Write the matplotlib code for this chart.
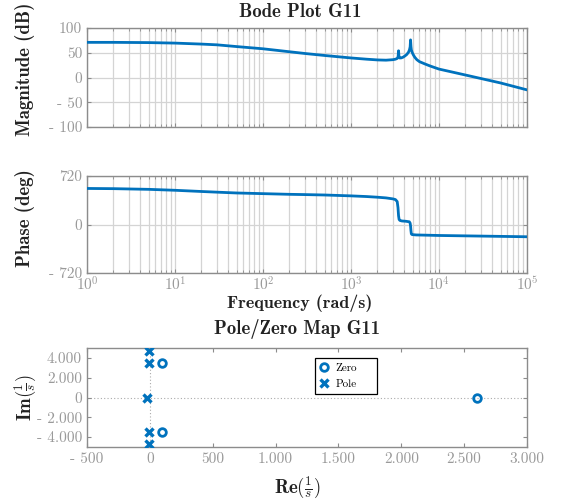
import matplotlib
matplotlib.use("Agg")
import matplotlib.pyplot as plt
import numpy as np

# ---------------- data ----------------
freq = [1, 2, 5, 10, 20, 30, 50, 100, 200, 300, 500, 1000, 1500, 2000, 2500,
        3000, 3200, 3350, 3430, 3470, 3510, 3560, 3700, 3900, 4100, 4300, 4500,
        4620, 4700, 4750, 4800, 4850, 4950, 5100, 5300, 5600, 6000, 7000, 8000,
        10000, 20000, 50000, 100000]
mag_db = [71, 71, 70.5, 69.5, 67.5, 66, 62.5, 58, 52, 48.5, 44.5, 39.5, 37, 35.5, 35,
          36, 37, 38.5, 42, 54, 42, 39.5, 39.5, 41, 43.5, 46.5, 51,
          56, 62, 76, 63, 56, 51, 46, 41, 36, 32, 27, 23,
          17, 5, -11, -25]

phase_freq = [1, 2, 5, 10, 20, 30, 50, 100, 200, 300, 500, 1000, 1500, 2000, 2500,
              3000, 3200, 3350, 3420, 3470, 3520, 3600, 3800, 4200, 4600, 4700,
              4750, 4800, 4850, 4950, 5500, 10000, 100000]
phase_deg = [535, 532, 522, 508, 490, 480, 468, 458, 448, 444, 438, 425, 415, 405, 395,
             380, 370, 340, 250, 130, 75, 60, 52, 48, 40, 20,
             -20, -90, -140, -150, -155, -163, -182]

zero_re = [100, 100, 2600]
zero_im = [3500, -3500, 0]
pole_re = [-10, -10, -10, -10, -20]
pole_im = [4700, 3500, -3500, -4700, 0]

mag_ticks = [100, 50, 0, -50, -100]
mag_labels = ["100", "50", "0", "- 50", "- 100"]
phase_ticks = [720, 0, -720]
phase_labels = ["720", "0", "- 720"]
freq_ticks = [1, 10, 100, 1000, 10000, 100000]
freq_labels = [r"$10^{0}$", r"$10^{1}$", r"$10^{2}$", r"$10^{3}$", r"$10^{4}$", r"$10^{5}$"]
re_ticks = [-500, 0, 500, 1000, 1500, 2000, 2500, 3000]
re_labels = ["- 500", "0", "500", "1.000", "1.500", "2.000", "2.500", "3.000"]
im_ticks = [4000, 2000, 0, -2000, -4000]
im_labels = ["4.000", "2.000", "0", "- 2.000", "- 4.000"]

# ---------------- style ----------------
plt.rcParams["mathtext.fontset"] = "cm"
plt.rcParams["axes.unicode_minus"] = False
BLUE = "#0072BD"
TICKC = "#9a9a9a"
SPINEC = "#8c8c8c"
GRIDC = "#d4d4d4"
TXTC = "#222222"
REG = "cmr10"
BOLD = "cmb10"
TICKFS = 11
LABFS = 13.5

fig = plt.figure(figsize=(5.61, 5.0), dpi=100)
W, H = 561.0, 500.0


def ax_rect(l, t, r, b):
    return [l / W, 1 - b / H, (r - l) / W, (b - t) / H]


def style_axes(ax):
    for s in ax.spines.values():
        s.set_color(SPINEC)
        s.set_linewidth(1.0)
    ax.tick_params(which="both", direction="in", top=True, right=True,
                   colors=SPINEC, labelcolor=TICKC, labelsize=TICKFS)
    for lab in ax.get_xticklabels() + ax.get_yticklabels():
        lab.set_family(REG)


# ---- magnitude ----
ax1 = fig.add_axes(ax_rect(87, 28, 527, 127))
ax1.semilogx(freq, mag_db, color=BLUE, lw=2.0, zorder=3)
ax1.set_xlim(1, 1e5)
ax1.set_ylim(-100, 100)
ax1.set_yticks(mag_ticks)
ax1.set_yticklabels(mag_labels)
ax1.set_xticks(freq_ticks)
ax1.set_xticklabels([])
ax1.grid(True, which="major", color=GRIDC, lw=0.9)
ax1.grid(True, which="minor", axis="x", color=GRIDC, lw=0.9)
style_axes(ax1)
ax1.tick_params(which="minor", length=2)
ax1.tick_params(which="major", length=3)

# ---- phase ----
ax2 = fig.add_axes(ax_rect(87, 176, 527, 273))
ax2.semilogx(phase_freq, phase_deg, color=BLUE, lw=2.0, zorder=3)
ax2.set_xlim(1, 1e5)
ax2.set_ylim(-720, 720)
ax2.set_yticks(phase_ticks)
ax2.set_yticklabels(phase_labels)
ax2.set_xticks(freq_ticks)
ax2.set_xticklabels(freq_labels)
ax2.grid(True, which="major", color=GRIDC, lw=0.9)
ax2.grid(True, which="minor", axis="x", color=GRIDC, lw=0.9)
style_axes(ax2)
ax2.tick_params(which="minor", length=2)
ax2.tick_params(which="major", length=3)
ax2.tick_params(axis="x", labelsize=11, pad=2)

# ---- pole/zero map ----
ax3 = fig.add_axes(ax_rect(87, 348, 527, 447))
ax3.axhline(0, color="#aaaaaa", lw=0.8, ls=(0, (1, 2)), zorder=1)
ax3.axvline(0, color="#aaaaaa", lw=0.8, ls=(0, (1, 2)), zorder=1)
ax3.plot(zero_re, zero_im, ls="none", marker="o", ms=5.5, mfc="none",
         mec=BLUE, mew=2.0, label="Zero", zorder=3)
ax3.plot(pole_re, pole_im, ls="none", marker="x", ms=6,
         mec=BLUE, mew=2.4, label="Pole", zorder=3)
ax3.set_xlim(-500, 3000)
ax3.set_ylim(-5000, 5000)
ax3.set_xticks(re_ticks)
ax3.set_xticklabels(re_labels)
ax3.set_yticks(im_ticks)
ax3.set_yticklabels(im_labels)
style_axes(ax3)
ax3.tick_params(which="major", length=3)
leg = ax3.legend(loc="upper left", bbox_to_anchor=(0.518, 0.5, 0.141, 0.397),
                 mode="expand", borderaxespad=0, fancybox=False,
                 framealpha=1, edgecolor="black", prop={"family": REG, "size": 8},
                 handlelength=0.8, handletextpad=0.6, borderpad=0.45,
                 labelspacing=0.55)
leg.get_frame().set_linewidth(0.9)

# ---- texts ----
fig.text(300 / W, 1 - 12 / H, "Bode Plot G11", family=BOLD, fontsize=LABFS,
         ha="center", va="center", color=TXTC)
fig.text(297 / W, 1 - 329 / H, "Pole/Zero Map G11", family=BOLD, fontsize=LABFS,
         ha="center", va="center", color=TXTC)
fig.text(300 / W, 1 - 303 / H, "Frequency (rad/s)", family=BOLD, fontsize=13,
         ha="center", va="center", color=TXTC)
fig.text(297 / W, 1 - 487 / H, r"$\mathbf{Re}(\frac{1}{s})$", fontsize=LABFS,
         ha="center", va="center", color=TXTC)
fig.text(25 / W, 1 - 69 / H, "Magnitude (dB)", family=BOLD, fontsize=LABFS,
         ha="center", va="center", rotation=90, color=TXTC)
fig.text(25 / W, 1 - 218 / H, "Phase (deg)", family=BOLD, fontsize=LABFS,
         ha="center", va="center", rotation=90, color=TXTC)
fig.text(25 / W, 1 - 398 / H, r"$\mathbf{Im}(\frac{1}{s})$", fontsize=LABFS,
         ha="center", va="center", rotation=90, color=TXTC)

fig.savefig("out.png", dpi=100)
